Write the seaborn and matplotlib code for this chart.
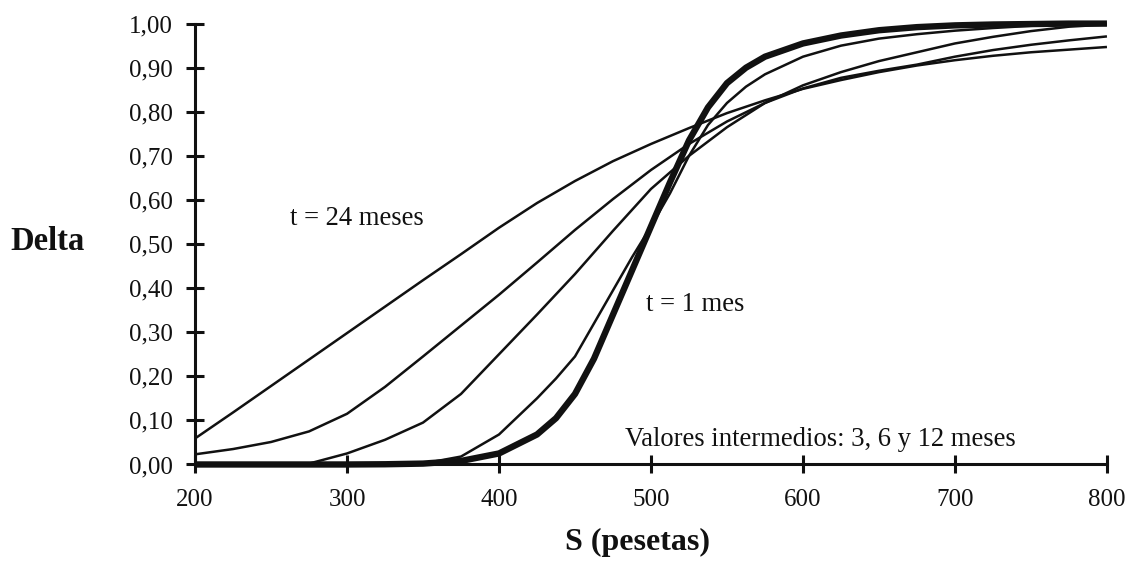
import matplotlib
matplotlib.use("Agg")
import matplotlib.pyplot as plt
import seaborn as sns
import pandas as pd

# Underlying price S (pesetas) and option delta for each time to expiry
s_24 = [200, 225, 250, 275, 300, 325, 350, 375, 400, 425, 450, 475, 500, 525,
        550, 575, 600, 625, 650, 675, 700, 725, 750, 775, 800]
delta_24 = [0.059, 0.118, 0.178, 0.238, 0.298, 0.358, 0.418, 0.477, 0.537, 0.593,
            0.643, 0.688, 0.727, 0.763, 0.797, 0.826, 0.852, 0.872, 0.890, 0.905,
            0.917, 0.927, 0.935, 0.941, 0.947]

s_12 = [200, 225, 250, 275, 300, 325, 350, 375, 400, 425, 450, 475, 500, 525,
        550, 575, 600, 625, 650, 675, 700, 725, 750, 775, 800]
delta_12 = [0.023, 0.035, 0.051, 0.075, 0.115, 0.176, 0.245, 0.315, 0.385, 0.458,
            0.532, 0.602, 0.668, 0.727, 0.778, 0.820, 0.853, 0.877, 0.893, 0.907,
            0.925, 0.940, 0.952, 0.962, 0.971]

s_6 = [200, 225, 250, 275, 300, 325, 350, 375, 400, 425, 450, 475, 500, 525,
       550, 575, 600, 625, 650, 675, 700, 725, 750, 775, 800]
delta_6 = [0.000, 0.000, 0.000, 0.002, 0.025, 0.056, 0.095, 0.160, 0.250, 0.340,
           0.432, 0.530, 0.625, 0.700, 0.765, 0.820, 0.860, 0.890, 0.915, 0.935,
           0.955, 0.970, 0.983, 0.993, 0.998]

s_3 = [200, 225, 250, 275, 300, 325, 350, 375, 400, 425, 437.5, 450, 462.5, 475,
       487.5, 500, 512.5, 525, 537.5, 550, 562.5, 575, 600, 625, 650, 675, 700,
       725, 750, 775, 800]
delta_3 = [0.000, 0.000, 0.000, 0.000, 0.000, 0.000, 0.002, 0.018, 0.068, 0.150,
           0.195, 0.245, 0.320, 0.395, 0.470, 0.540, 0.615, 0.700, 0.770, 0.820,
           0.857, 0.885, 0.925, 0.950, 0.966, 0.976, 0.984, 0.990, 0.995, 0.998,
           1.000]

s_1 = [200, 225, 250, 275, 300, 325, 350, 375, 400, 425, 437.5, 450, 462.5, 475,
       487.5, 500, 512.5, 525, 537.5, 550, 562.5, 575, 600, 625, 650, 675, 700,
       725, 750, 775, 800]
delta_1 = [0.000, 0.000, 0.000, 0.000, 0.000, 0.0005, 0.002, 0.008, 0.025, 0.068,
           0.105, 0.160, 0.240, 0.340, 0.440, 0.540, 0.640, 0.735, 0.810, 0.865,
           0.900, 0.925, 0.955, 0.973, 0.985, 0.992, 0.996, 0.998, 0.999, 1.000,
           1.000]

x_ticks = [200, 300, 400, 500, 600, 700, 800]
y_ticks = [0.0, 0.1, 0.2, 0.3, 0.4, 0.5, 0.6, 0.7, 0.8, 0.9, 1.0]
y_tick_labels = ["0,00", "0,10", "0,20", "0,30", "0,40", "0,50", "0,60",
                 "0,70", "0,80", "0,90", "1,00"]

series = [
    ("24 meses", s_24, delta_24),
    ("12 meses", s_12, delta_12),
    ("6 meses", s_6, delta_6),
    ("3 meses", s_3, delta_3),
    ("1 mes", s_1, delta_1),
]
frames = [pd.DataFrame({"S": s, "Delta": d, "t": name}) for name, s, d in series]
df = pd.concat(frames, ignore_index=True)

sns.set_theme(style="white")
plt.rcParams["font.family"] = ["Liberation Serif", "DejaVu Serif"]

fig = plt.figure(figsize=(11.3, 5.69), dpi=100)
ax = fig.add_axes([0.1726, 0.1837, 0.8070, 0.7748])

ink = "#111111"
widths = {"24 meses": 1.8, "12 meses": 1.8, "6 meses": 1.8, "3 meses": 1.8, "1 mes": 4.6}
for name, _, _ in series:
    sub = df[df["t"] == name]
    sns.lineplot(data=sub, x="S", y="Delta", ax=ax, color=ink,
                 linewidth=widths[name], estimator=None, sort=False,
                 legend=False, clip_on=False, solid_capstyle="butt",
                 solid_joinstyle="round")

ax.set_xlim(200, 800)
ax.set_ylim(0, 1)
ax.set_xticks(x_ticks)
ax.set_xticklabels([str(v) for v in x_ticks])
ax.set_yticks(y_ticks)
ax.set_yticklabels(y_tick_labels)

for side in ("top", "right"):
    ax.spines[side].set_visible(False)
for side in ("left", "bottom"):
    ax.spines[side].set_color(ink)
    ax.spines[side].set_linewidth(2.2)

ax.tick_params(axis="both", which="major", bottom=True, left=True,
               direction="inout", length=13.5, width=2.2,
               color=ink, labelsize=18, labelcolor=ink)
ax.tick_params(axis="y", pad=9)
ax.tick_params(axis="x", pad=11)

ax.set_xlabel("S (pesetas)", fontsize=23, fontweight="bold", color=ink)
ax.xaxis.set_label_coords(0.485, -0.176)
ax.xaxis.label.set_va("center")
ax.set_ylabel("Delta", fontsize=23.5, fontweight="bold", color=ink, rotation=0)
ax.yaxis.set_label_coords(-0.203, 0.505)
ax.yaxis.label.set_ha("left")
ax.yaxis.label.set_va("center")

ax.text(262.5, 0.559, "t = 24 meses", fontsize=19.2, color=ink, va="center", ha="left")
ax.text(497, 0.362, "t = 1 mes", fontsize=19.2, color=ink, va="center", ha="left")
ax.text(483, 0.056, "Valores intermedios: 3, 6 y 12 meses", fontsize=19.2,
        color=ink, va="center", ha="left")

fig.savefig("out.png", dpi=100, facecolor="white")
